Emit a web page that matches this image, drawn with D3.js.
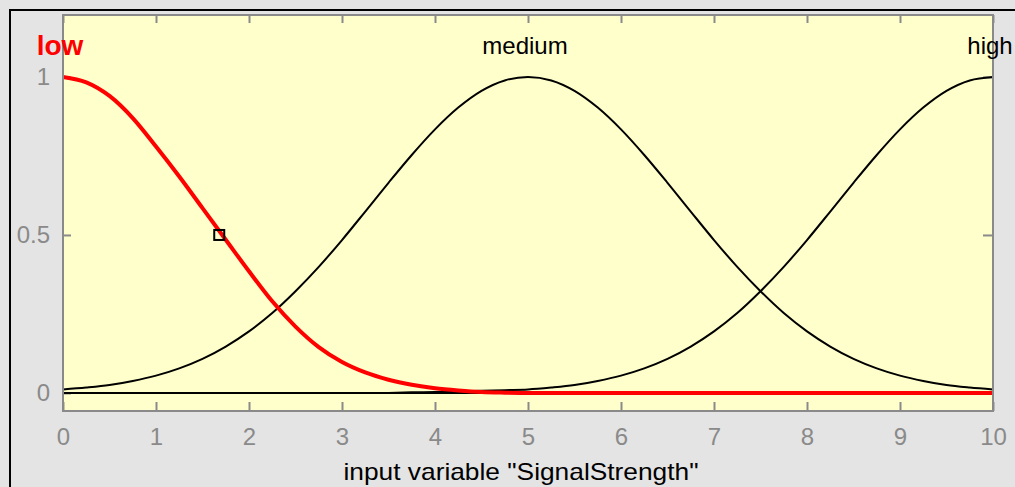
<!DOCTYPE html>
<html>
<head>
<meta charset="utf-8">
<script src="https://cdn.jsdelivr.net/npm/d3@7"></script>
<style>
  html, body { margin: 0; padding: 0; background: #e4e4e4; }
  svg { display: block; }
</style>
</head>
<body>
<svg id="chart"></svg>
<script>
// membership function samples, input variable "SignalStrength"
const X_VALUES = [0, 0.25, 0.5, 0.75, 1, 1.25, 1.5, 1.75, 2, 2.25, 2.5, 2.75, 3, 3.25, 3.5, 3.75,
  4, 4.25, 4.5, 4.75, 5, 5.25, 5.5, 5.75, 6, 6.25, 6.5, 6.75, 7, 7.25, 7.5, 7.75,
  8, 8.25, 8.5, 8.75, 9, 9.25, 9.5, 9.75, 10];

const LOW = [1, 0.983, 0.94, 0.87, 0.78, 0.685, 0.585, 0.485, 0.385, 0.29, 0.21, 0.145, 0.098, 0.065, 0.042, 0.026,
  0.015, 0.008, 0.003, 0.001, 0, 0, 0, 0, 0, 0, 0, 0, 0, 0, 0, 0,
  0, 0, 0, 0, 0, 0, 0, 0, 0];

const MEDIUM = [0.011, 0.017, 0.025, 0.038, 0.055, 0.078, 0.108, 0.147, 0.195, 0.253, 0.322, 0.399, 0.484, 0.574, 0.665, 0.753,
  0.834, 0.903, 0.956, 0.989, 1, 0.989, 0.956, 0.903, 0.834, 0.753, 0.665, 0.574, 0.484, 0.399, 0.322, 0.253,
  0.195, 0.147, 0.108, 0.078, 0.055, 0.038, 0.025, 0.017, 0.011];

// HIGH starts at x = 2.5 (values below are ~0)
const HIGH = [0, 0.002, 0.003, 0.005, 0.007, 0.009, 0.011, 0.017, 0.025, 0.038, 0.055, 0.078,
  0.108, 0.147, 0.195, 0.253, 0.322, 0.399, 0.484, 0.574, 0.665, 0.753, 0.834, 0.903, 0.956, 0.989, 1];
const HIGH_X = X_VALUES.slice(14);

const MF_NAMES = ['low', 'medium', 'high'];
const MF_CENTERS = [0, 5, 10];
const X_TICKS = [0, 1, 2, 3, 4, 5, 6, 7, 8, 9, 10];
const Y_TICKS = [0, 0.5, 1];
const MARKER = { x: 1.68, y: 0.5 };
const X_LABEL = 'input variable "SignalStrength"';

const W = 1015, H = 487;
const plot = { left: 63, right: 993, top: 15, bottom: 411 };
const font = '"Liberation Sans", Arial, sans-serif';
const tickGray = '#8a8a8a';

const svg = d3.select('#chart').attr('width', W).attr('height', H);

// window frame (black edge on left and top)
svg.append('rect').attr('x', 0).attr('y', 0).attr('width', W).attr('height', H).attr('fill', '#e4e4e4');
svg.append('path')
  .attr('d', `M10,${H} L10,10 L${W},10`)
  .attr('fill', 'none')
  .attr('stroke', '#000')
  .attr('stroke-width', 2);

const x = d3.scaleLinear().domain([0, 10]).range([plot.left, plot.right]);
const y = d3.scaleLinear().domain([-0.057, 1.196]).range([plot.bottom, plot.top]);

svg.append('rect')
  .attr('x', plot.left).attr('y', plot.top)
  .attr('width', plot.right - plot.left).attr('height', plot.bottom - plot.top)
  .attr('fill', '#ffffcc');

function styleAxis(g) {
  g.select('.domain').remove();
  g.selectAll('.tick line').attr('stroke', tickGray).attr('stroke-width', 2);
  g.selectAll('.tick text')
    .attr('fill', tickGray)
    .attr('font-family', font)
    .attr('font-size', '24px');
}

svg.append('g')
  .attr('transform', `translate(0,${plot.bottom})`)
  .call(d3.axisBottom(x).tickValues(X_TICKS).tickSize(-9).tickPadding(17).tickFormat(d3.format('d')))
  .call(styleAxis);

svg.append('g')
  .attr('transform', `translate(0,${plot.top})`)
  .call(d3.axisTop(x).tickValues(X_TICKS).tickSize(-8).tickFormat(''))
  .call(styleAxis);

svg.append('g')
  .attr('transform', `translate(${plot.left},0)`)
  .call(d3.axisLeft(y).tickValues(Y_TICKS).tickSize(-8).tickPadding(13).tickFormat(d => d === 0.5 ? '0.5' : d3.format('d')(d)))
  .call(styleAxis);

svg.append('g')
  .attr('transform', `translate(${plot.right},0)`)
  .call(d3.axisRight(y).tickValues(Y_TICKS).tickSize(-10).tickFormat(''))
  .call(styleAxis);

// zero line
svg.append('line')
  .attr('x1', x(0)).attr('x2', x(10))
  .attr('y1', y(0)).attr('y2', y(0))
  .attr('stroke', '#000')
  .attr('stroke-width', 2);

const line = d3.line()
  .x(d => x(d[0]))
  .y(d => y(d[1]))
  .curve(d3.curveMonotoneX);

svg.append('path')
  .datum(X_VALUES.map((v, i) => [v, MEDIUM[i]]))
  .attr('d', line)
  .attr('fill', 'none')
  .attr('stroke', '#000')
  .attr('stroke-width', 2);

svg.append('path')
  .datum(HIGH_X.map((v, i) => [v, HIGH[i]]))
  .attr('d', line)
  .attr('fill', 'none')
  .attr('stroke', '#000')
  .attr('stroke-width', 2);

svg.append('path')
  .datum(X_VALUES.map((v, i) => [v, LOW[i]]))
  .attr('d', line)
  .attr('fill', 'none')
  .attr('stroke', '#ff0000')
  .attr('stroke-width', 4);

// frame of the axes
svg.append('rect')
  .attr('x', plot.left).attr('y', plot.top)
  .attr('width', plot.right - plot.left).attr('height', plot.bottom - plot.top)
  .attr('fill', 'none')
  .attr('stroke', tickGray)
  .attr('stroke-width', 2);

// selected point marker
svg.append('rect')
  .attr('x', x(MARKER.x) - 5).attr('y', y(MARKER.y) - 5)
  .attr('width', 10).attr('height', 10)
  .attr('fill', 'none')
  .attr('stroke', '#000')
  .attr('stroke-width', 2);

// mf names
svg.selectAll('.mf-name')
  .data(MF_NAMES)
  .enter()
  .append('text')
  .attr('class', 'mf-name')
  .attr('x', (d, i) => x(MF_CENTERS[i]) - 3)
  .attr('y', (d, i) => i === 0 ? 55 : 54)
  .attr('text-anchor', 'middle')
  .attr('font-family', font)
  .attr('font-size', (d, i) => i === 0 ? '28px' : '24px')
  .attr('font-weight', (d, i) => i === 0 ? 700 : 400)
  .attr('fill', (d, i) => i === 0 ? '#ff0000' : '#000')
  .text(d => d);

svg.append('text')
  .attr('x', 521)
  .attr('y', 480)
  .attr('text-anchor', 'middle')
  .attr('font-family', font)
  .attr('font-size', '24px')
  .attr('textLength', 355)
  .attr('lengthAdjust', 'spacingAndGlyphs')
  .attr('fill', '#000')
  .text(X_LABEL);
</script>
</body>
</html>
